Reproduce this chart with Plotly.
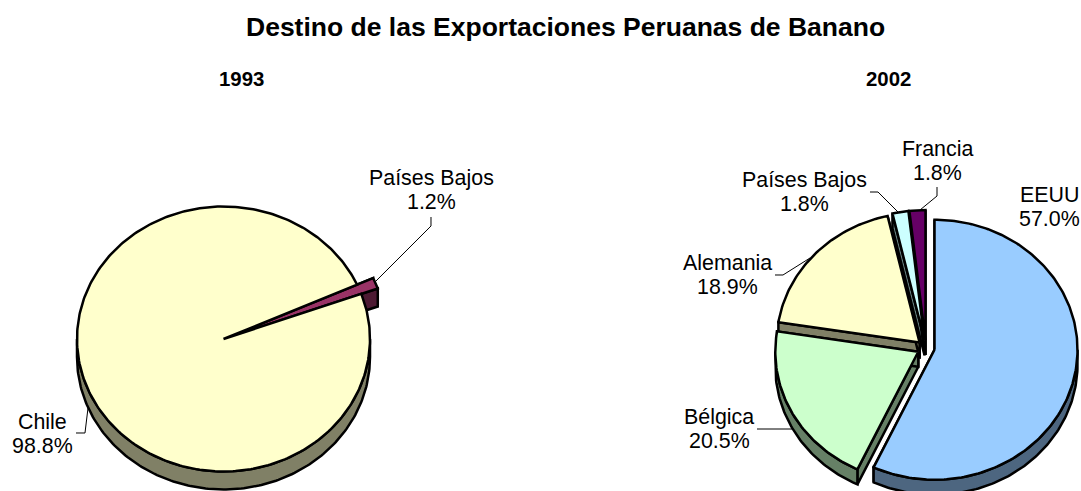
import math
import plotly.graph_objects as go

TITLE = "Destino de las Exportaciones Peruanas de Banano"
YEARS = ["1993", "2002"]

labels_1993 = ["Chile", "Países Bajos"]
values_1993 = [98.8, 1.2]
colors_1993 = ["#FFFFCC", "#993366"]
walls_1993 = ["#808066", "#4D1A33"]

labels_2002 = ["EEUU", "Bélgica", "Alemania", "Países Bajos", "Francia"]
values_2002 = [57.0, 20.5, 18.9, 1.8, 1.8]
colors_2002 = ["#99CCFF", "#CCFFCC", "#FFFFCC", "#CCFFFF", "#660066"]
walls_2002 = ["#4D6680", "#668066", "#808066", "#668080", "#330033"]

W, H = 1081, 491
FONT = "Liberation Sans, Arial, sans-serif"
INK = "#000000"


def pt(angle, r=1.0, ox=0.0, oy=0.0):
    a = math.radians(angle)
    return (ox + r * math.sin(a), oy + r * math.cos(a))


def arc(a0, a1, r, ox, oy, dy=0.0):
    n = max(2, int(abs(a1 - a0)) + 1)
    pts = [pt(a0 + (a1 - a0) * i / (n - 1), r, ox, oy) for i in range(n)]
    return [(x, y - dy) for x, y in pts]


def poly(points, fill, axis):
    xs = [p[0] for p in points] + [points[0][0]]
    ys = [p[1] for p in points] + [points[0][1]]
    return go.Scatter(x=xs, y=ys, mode="lines", fill="toself", fillcolor=fill,
                      line=dict(color=INK, width=2.5), hoverinfo="skip",
                      showlegend=False, xaxis=f"x{axis}", yaxis=f"y{axis}")


def slices(values, start, pull, scale):
    out, a = [], start
    for v, p, s in zip(values, pull, scale):
        b = a + v * 3.6
        m = math.radians((a + b) / 2)
        out.append((a, b, p * math.sin(m), p * math.cos(m), s))
        a = b
    return out


def wall(sl, color, depth, axis):
    a, b, ox, oy, r = sl
    traces = []
    for ang in (a, b):
        e = pt(ang, r, ox, oy)
        traces.append(poly([(ox, oy), e, (e[0], e[1] - depth), (ox, oy - depth)], color, axis))
    # outer band: the part of the rim that faces the viewer
    lo, hi = max(a, 90), min(b, 270)
    if hi > lo:
        traces.append(poly(arc(lo, hi, r, ox, oy) + arc(hi, lo, r, ox, oy, depth), color, axis))
    return traces


def face(sl, color, axis):
    a, b, ox, oy, r = sl
    return poly([(ox, oy)] + arc(a, b, r, ox, oy), color, axis)


fig = go.Figure()

# 1993
depth_a = 18 / 132.5
s93 = slices(values_1993, 70.1, [0, 0], [1.0, 1.12])
for t in wall(s93[0], walls_1993[0], depth_a, 1) + wall(s93[1], walls_1993[1], depth_a, 1):
    fig.add_trace(t)
fig.add_trace(face(s93[1], colors_1993[1], 1))
fig.add_trace(face(s93[0], colors_1993[0], 1))

# 2002: painted back to front
depth_b = 15 / 130
s02 = slices(values_2002, 0, [0.061] * 5, [1.0] * 5)
for i in [4, 3, 2, 1, 0]:
    for t in wall(s02[i], walls_2002[i], depth_b, 2):
        fig.add_trace(t)
    fig.add_trace(face(s02[i], colors_2002[i], 2))


def axis_ranges(cx, cy, rx, ry, px0, px1):
    return ([(px0 - cx) / rx, (px1 - cx) / rx], [(cy - H) / ry, cy / ry])


xr1, yr1 = axis_ranges(223.5, 339, 146.5, 132.5, 0, W / 2)
xr2, yr2 = axis_ranges(926, 348, 143, 130, W / 2, W)
hidden = dict(visible=False, fixedrange=True)
fig.update_layout(
    width=W, height=H, margin=dict(l=0, r=0, t=0, b=0, pad=0),
    paper_bgcolor="white", plot_bgcolor="white", showlegend=False,
    font=dict(family=FONT, color=INK),
    xaxis=dict(domain=[0, 0.5], range=xr1, **hidden),
    yaxis=dict(domain=[0, 1], range=yr1, **hidden),
    xaxis2=dict(domain=[0.5, 1], range=xr2, **hidden),
    yaxis2=dict(domain=[0, 1], range=yr2, anchor="x2", **hidden),
)


def note(text, px, py, size, bold=False):
    if bold:
        text = f"<b>{text}</b>"
    fig.add_annotation(text=text, x=px / W, y=1 - py / H, xref="paper", yref="paper",
                       xanchor="center", yanchor="middle", showarrow=False,
                       align="center", font=dict(size=size, family=FONT, color=INK))


def leader(points):
    path = "M " + " L ".join(f"{x / W:.5f},{1 - y / H:.5f}" for x, y in points)
    fig.add_shape(type="path", path=path, xref="paper", yref="paper",
                  line=dict(color=INK, width=1), layer="above")


def tag(label, value, px, py):
    note(label, px, py - 12.3, 21.4)
    note(f"{value:.1f}%", px, py + 12.3, 21.4)


note(TITLE, 565, 27, 26.5, bold=True)
note(YEARS[0], 241, 79, 20.4, bold=True)
note(YEARS[1], 888, 79, 20.4, bold=True)

tag(labels_1993[0], values_1993[0], 42, 434)
tag(labels_1993[1], values_1993[1], 431, 190)
tag(labels_2002[0], values_2002[0], 1049, 207)
tag(labels_2002[1], values_2002[1], 719, 429)
tag(labels_2002[2], values_2002[2], 727, 275)
tag(labels_2002[3], values_2002[3], 804, 192)
tag(labels_2002[4], values_2002[4], 937, 161)

leader([(431, 217), (431, 226), (375, 282)])
leader([(76, 433), (85, 433), (88, 408)])
leader([(870, 192), (878, 192), (898, 212)])
leader([(937, 187), (937, 196), (920, 210)])
leader([(775, 275), (783, 275), (810, 258)])
leader([(757, 429), (792, 429)])

fig.write_html("out.html", config=dict(displayModeBar=False),
               post_script="document.body.style.margin='0';document.documentElement.style.overflow='hidden';")
